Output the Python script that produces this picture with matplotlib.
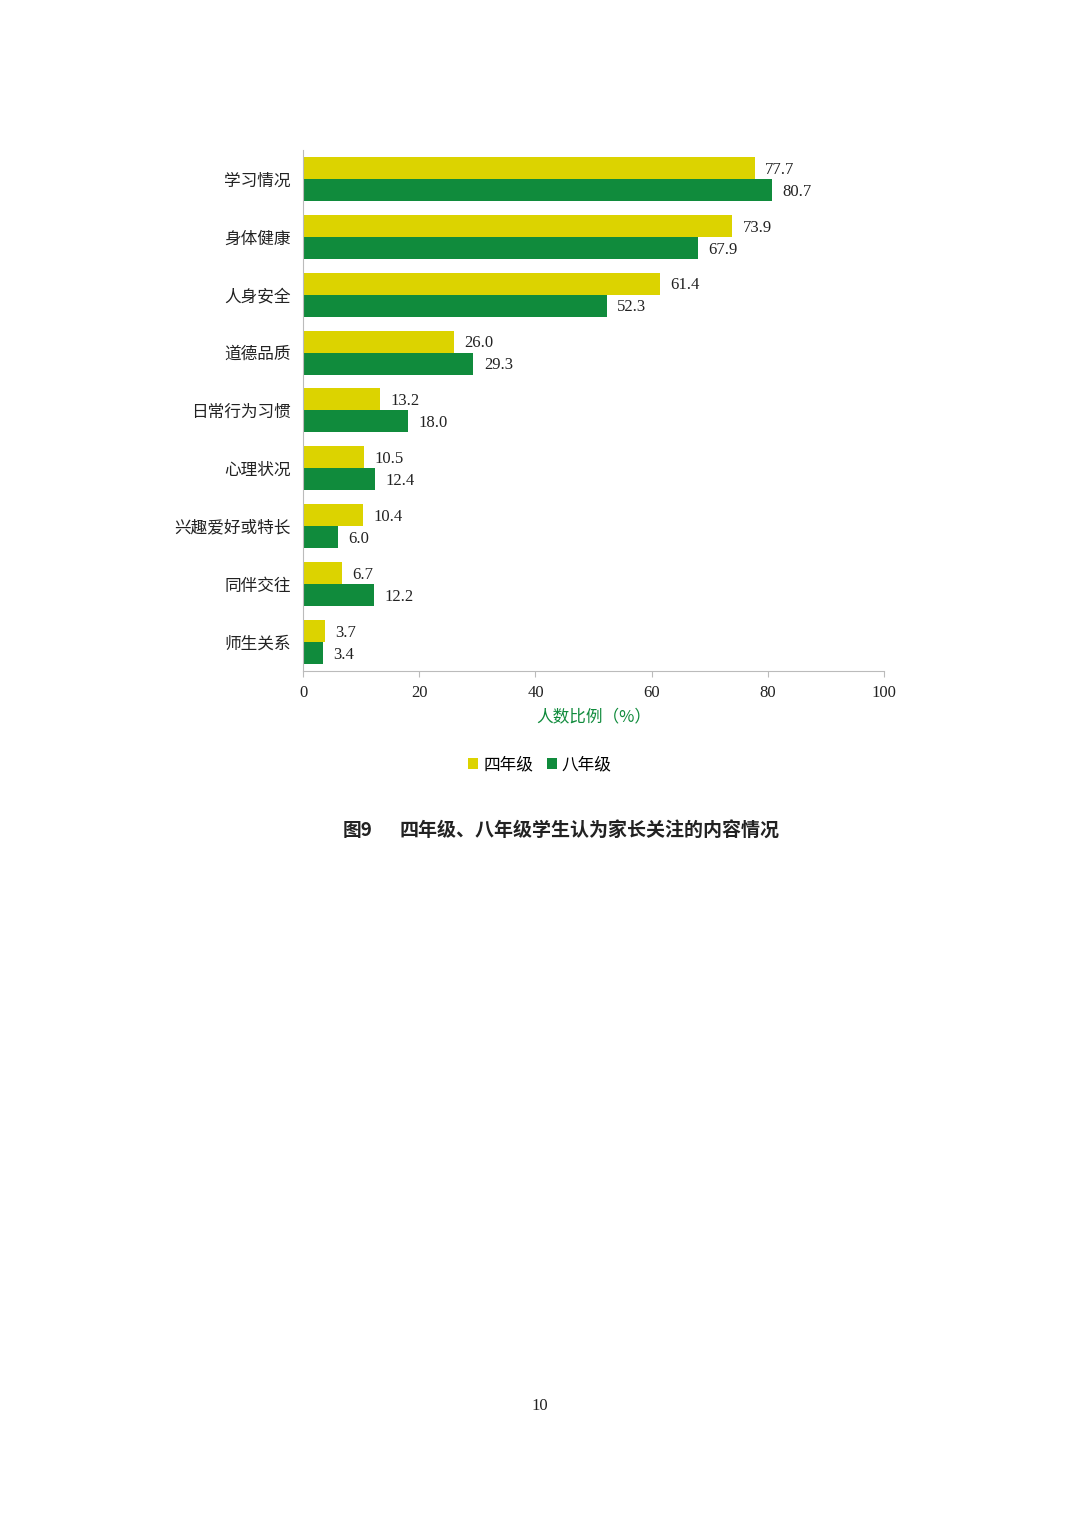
import numpy as np
import matplotlib.pyplot as plt

plt.rcParams['font.family'] = ['Noto Sans CJK SC', 'DejaVu Sans']

categories = ['学习情况', '身体健康', '人身安全', '道德品质', '日常行为习惯',
              '心理状况', '兴趣爱好或特长', '同伴交往', '师生关系']
grade4 = [77.7, 73.9, 61.4, 26.0, 13.2, 10.5, 10.4, 6.7, 3.7]
grade8 = [80.7, 67.9, 52.3, 29.3, 18.0, 12.4, 6.0, 12.2, 3.4]
xticks = [0, 20, 40, 60, 80, 100]

yellow = '#DCD300'
green = '#108B3C'
serif = ['Liberation Serif', 'DejaVu Serif']

fig = plt.figure(figsize=(10.8, 15.27), dpi=100)
ax = fig.add_axes([0.2806, 0.5606, 0.5380, 0.3412])

y = np.arange(len(categories))
h = 0.38
ax.barh(y - h / 2, grade4, height=h, color=yellow, label='四年级')
ax.barh(y + h / 2, grade8, height=h, color=green, label='八年级')

# value labels just right of each bar
for yi, v in zip(y, grade4):
    ax.text(v + 1.8, yi - h / 2 + 0.03, f'{v:.1f}', va='center', ha='left',
            fontsize=12, family=serif, color='#222222')
for yi, v in zip(y, grade8):
    ax.text(v + 1.8, yi + h / 2 + 0.03, f'{v:.1f}', va='center', ha='left',
            fontsize=12, family=serif, color='#222222')

ax.set_ylim(len(categories) - 0.5, -0.5)
ax.set_xlim(0, 100)
ax.set_yticks(y)
ax.set_yticklabels(categories, fontsize=12, color='#222222')
ax.set_xticks(xticks)
ax.set_xticklabels([str(t) for t in xticks], fontsize=12, family=serif, color='#222222')
ax.tick_params(axis='y', length=0, pad=9)
ax.tick_params(axis='x', length=4, color='#BBBBBB', pad=6)

for s in ['top', 'right']:
    ax.spines[s].set_visible(False)
ax.spines['left'].set_color('#BBBBBB')
ax.spines['bottom'].set_color('#BBBBBB')

ax.set_xlabel('人数比例（%）', fontsize=12, color=green, labelpad=5)

fig.legend(loc='center', bbox_to_anchor=(0.5, 1 - 765 / 1527), ncol=2, frameon=False,
           fontsize=12, handlelength=0.6, handleheight=0.6, handletextpad=0.3,
           columnspacing=0.8)

fig.text(343 / 1080, 1 - 831 / 1527, '图9', fontsize=13.5, fontweight='bold',
         va='center', ha='left', color='#222222')
fig.text(400 / 1080, 1 - 831 / 1527, '四年级、八年级学生认为家长关注的内容情况', fontsize=13.7,
         fontweight='bold', va='center', ha='left', color='#222222')
fig.text(0.5, 1 - 1406 / 1527, '10', fontsize=12, family=serif, ha='center', va='center',
         color='#222222')

fig.savefig('out.png', dpi=100)
